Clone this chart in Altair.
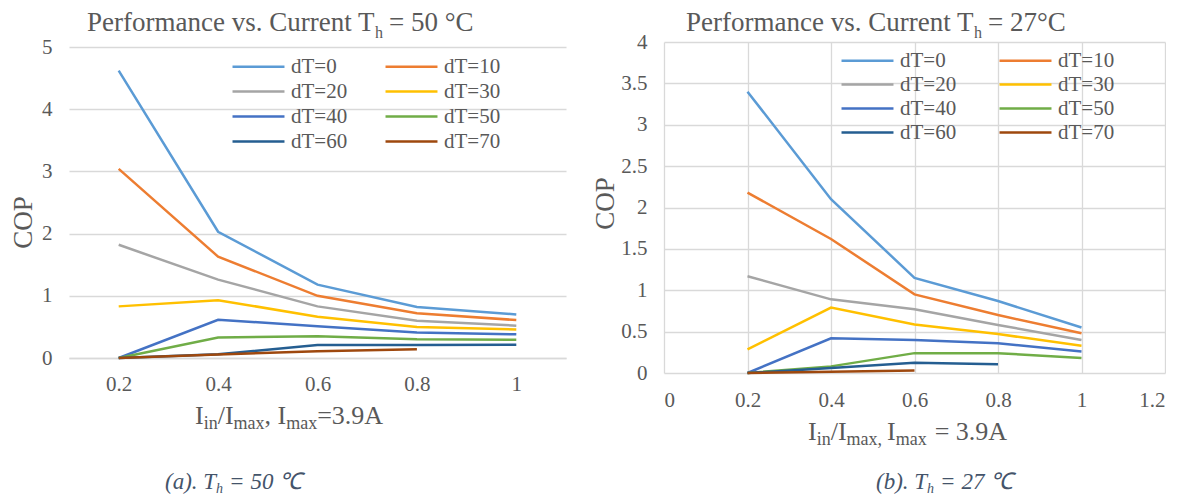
import altair as alt
import pandas as pd

series_names = ["dT=0", "dT=10", "dT=20", "dT=30", "dT=40", "dT=50", "dT=60", "dT=70"]
series_colors = ["#5B9BD5", "#ED7D31", "#A5A5A5", "#FFC000", "#4472C4", "#70AD47", "#255E91", "#9E480E"]

# (a) Th = 50 C  (category axis)
left_ratio = ["0.2", "0.4", "0.6", "0.8", "1"]
left_dT0 = [4.62, 2.03, 1.18, 0.82, 0.70]
left_dT10 = [3.04, 1.63, 1.00, 0.72, 0.61]
left_dT20 = [1.82, 1.26, 0.83, 0.60, 0.52]
left_dT30 = [0.83, 0.93, 0.665, 0.50, 0.46]
left_dT40 = [0.0, 0.615, 0.51, 0.41, 0.38]
left_dT50 = [0.0, 0.33, 0.35, 0.30, 0.295]
left_dT60 = [0.0, 0.06, 0.21, 0.21, 0.215]
left_dT70 = [0.0, 0.055, 0.11, 0.14]
left_ticks = [0, 1, 2, 3, 4, 5]

# (b) Th = 27 C  (scatter axis)
right_ratio = [0.2, 0.4, 0.6, 0.8, 1.0]
right_dT0 = [3.40, 2.10, 1.15, 0.87, 0.55]
right_dT10 = [2.18, 1.62, 0.95, 0.70, 0.48]
right_dT20 = [1.17, 0.89, 0.77, 0.58, 0.40]
right_dT30 = [0.285, 0.79, 0.585, 0.47, 0.33]
right_dT40 = [0.0, 0.42, 0.40, 0.36, 0.26]
right_dT50 = [0.0, 0.08, 0.24, 0.24, 0.18]
right_dT60 = [0.0, 0.06, 0.125, 0.105]
right_dT70 = [0.0, 0.015, 0.03]
right_xticks = [0, 0.2, 0.4, 0.6, 0.8, 1.0, 1.2]
right_yticks = [0, 0.5, 1, 1.5, 2, 2.5, 3, 3.5, 4]


def to_long(xs, arrays):
    rows = []
    for name, vals in zip(series_names, arrays):
        for x, v in zip(xs, vals):
            rows.append({"ratio": x, "COP": v, "series": name})
    return pd.DataFrame(rows)


left_df = to_long(left_ratio, [left_dT0, left_dT10, left_dT20, left_dT30,
                               left_dT40, left_dT50, left_dT60, left_dT70])
right_df = to_long(right_ratio, [right_dT0, right_dT10, right_dT20, right_dT30,
                                 right_dT40, right_dT50, right_dT60, right_dT70])

FONT = "Liberation Serif, Times New Roman, serif"
GRAY = "#595959"
GRID = "#D9D9D9"
CAP = "#44546A"

# Times / Liberation Serif advance widths (per 1000 em)
W_REG = {'P': 556, 'e': 444, 'r': 333, 'f': 333, 'o': 500, 'm': 778, 'a': 444, 'n': 500,
         'c': 444, ' ': 250, 'v': 500, 's': 389, '.': 250, 'C': 667, 'u': 500, 't': 278,
         'T': 611, 'h': 500, '=': 564, '°': 400, 'I': 333, 'i': 278, '/': 278, 'x': 500,
         ',': 250, 'A': 722}
W_IT = {'(': 333, ')': 333, 'a': 500, 'b': 500, '.': 250, ' ': 250, 'T': 556, 'h': 500,
        '=': 675}


def text_w(s, size, italic=False):
    table = W_IT if italic else W_REG
    return sum(table.get(ch, 500) for ch in s) * size / 1000.0


def rich_text(segments, x0, y0, color, italic=False):
    """segments: list of (text, fontSize, dy, extra gap before)"""
    layers = []
    x = x0
    for s, size, dy, gap in segments:
        x += gap
        layers.append(
            alt.Chart(pd.DataFrame({"t": [s]}))
            .mark_text(align="left", baseline="alphabetic", font=FONT, fontSize=size,
                       color=color, fontStyle="italic" if italic else "normal")
            .encode(x=alt.value(x), y=alt.value(y0 + dy), text="t:N")
        )
        x += text_w(s, size, italic)
    return layers


def legend(x, y, colpad, rowpad):
    return alt.Legend(title=None, orient="none", legendX=x, legendY=y, columns=2,
                      direction="horizontal",
                      symbolType="M-5,0H5", symbolSize=108, symbolStrokeWidth=2.5,
                      labelFont=FONT, labelFontSize=21, labelColor=GRAY, labelOffset=22,
                      columnPadding=colpad, rowPadding=rowpad, padding=0)


# ---------- left panel ----------
LW, LH = 497, 316
left_lines = alt.Chart(left_df).mark_line(strokeWidth=2.5).encode(
    x=alt.X("ratio:N", sort=left_ratio, title=None,
            scale=alt.Scale(type="point", padding=0.5),
            axis=alt.Axis(labelAngle=0, labelFont=FONT, labelFontSize=21, labelColor=GRAY,
                          labelPadding=15, ticks=False, tickSize=0, domainColor=GRID,
                          domainWidth=1.3, grid=False)),
    y=alt.Y("COP:Q", scale=alt.Scale(domain=[0, 5.0805], nice=False), title="COP",
            axis=alt.Axis(values=left_ticks, labelFont=FONT, labelFontSize=21, labelColor=GRAY,
                          labelPadding=17, ticks=False, tickSize=0, domain=False,
                          gridColor=GRID, gridWidth=1.3, titleFont=FONT, titleFontSize=27,
                          titleColor=GRAY, titleFontWeight="normal", titlePadding=4,
                          titleY=180)),
    color=alt.Color("series:N", scale=alt.Scale(domain=series_names, range=series_colors),
                    legend=legend(179, 14, 32, 3)),
    order=alt.Order("ratio:N"),
)

left_layers = [left_lines]
left_layers += rich_text([("Performance vs. Current T", 27, 0, 0), ("h", 16, 7, 0),
                          ("= 50 °C", 27, 0, 6)], 18, -11, GRAY)
left_layers += rich_text([("I", 26, 0, 0), ("in", 18, 5, 0), ("/I", 26, 0, 0), ("max", 18, 5, 0),
                          (", I", 26, 0, 0), ("max", 18, 5, 0), ("=3.9A", 26, 0, 0)],
                         126, 382, GRAY)
left_layers += rich_text([("(a). T", 23, 0, 0), ("h", 14, 4, 0), ("= 50 ℃", 23, 0, 6)],
                         96, 447, CAP, italic=True)
left = alt.layer(*left_layers).properties(width=LW, height=LH)

# ---------- right panel ----------
RW, RH = 501, 331
right_lines = alt.Chart(right_df).mark_line(strokeWidth=2.5).encode(
    x=alt.X("ratio:Q", scale=alt.Scale(domain=[0, 1.2], nice=False), title=None,
            axis=alt.Axis(values=right_xticks, format="~g", labelFont=FONT, labelFontSize=21,
                          labelColor=GRAY, labelPadding=16, ticks=False, tickSize=0,
                          domain=False, gridColor=GRID, gridWidth=1.3)),
    y=alt.Y("COP:Q", scale=alt.Scale(domain=[0, 4], nice=False), title="COP",
            axis=alt.Axis(values=right_yticks, format="~g", labelFont=FONT, labelFontSize=21,
                          labelColor=GRAY, labelPadding=17, ticks=False, tickSize=0,
                          domain=False, gridColor=GRID, gridWidth=1.3, titleFont=FONT,
                          titleFontSize=27, titleColor=GRAY, titleFontWeight="normal",
                          titlePadding=1, titleY=161)),
    color=alt.Color("series:N", scale=alt.Scale(domain=series_names, range=series_colors),
                    legend=legend(193, 8, 37, 2)),
    order=alt.Order("ratio:Q"),
)

right_layers = [right_lines]
right_layers += rich_text([("Performance vs. Current T", 27, 0, 0), ("h", 16, 7, 0),
                           ("= 27°C", 27, 0, 6)], 22, -11, GRAY)
right_layers += rich_text([("I", 26, 0, 0), ("in", 18, 5, 0), ("/I", 26, 0, 0), ("max,", 18, 5, 0),
                           ("I", 26, 0, 5), ("max", 18, 5, 0), ("= 3.9A", 26, 0, 8)],
                          144, 398, GRAY)
right_layers += rich_text([("(b). T", 23, 0, 0), ("h", 14, 4, 0), ("= 27 ℃", 23, 0, 6)],
                          212, 447, CAP, italic=True)
right = alt.layer(*right_layers).properties(width=RW, height=RH)

chart = (
    alt.hconcat(left, right, spacing=24)
    .resolve_legend(color="independent")
    .properties(padding={"left": 1, "top": 0, "right": 0, "bottom": 0}, background="white")
    .configure_view(stroke="transparent")
)

chart.save("out.html", embed_options={"renderer": "svg", "actions": False})
